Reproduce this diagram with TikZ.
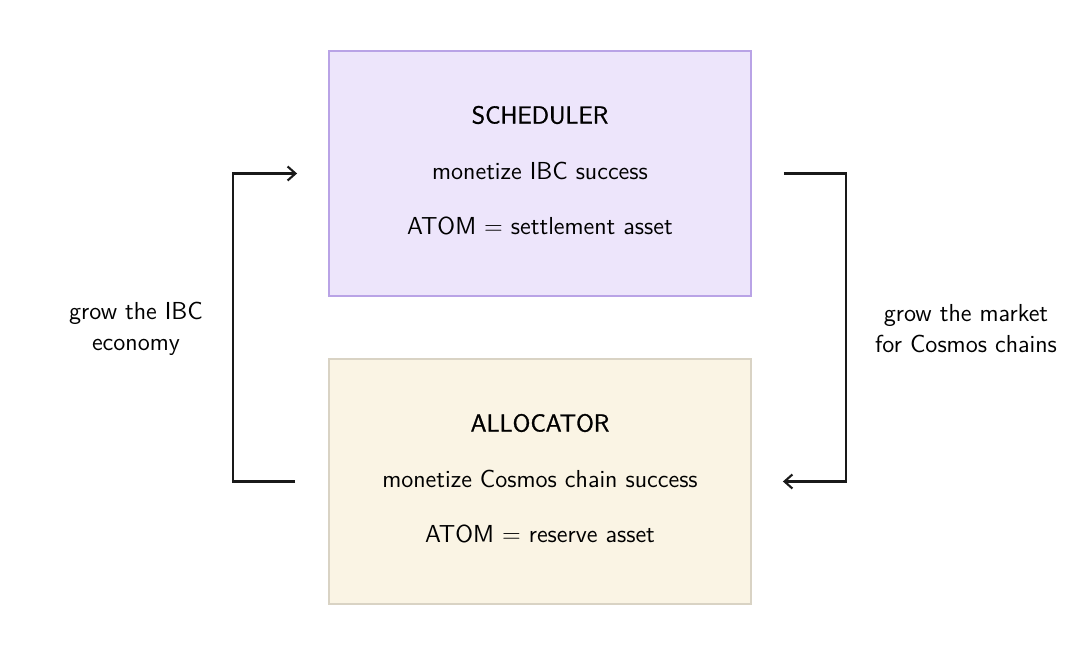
\documentclass[tikz,border=0pt]{standalone}
\usepackage{fontspec}
\usetikzlibrary{positioning,arrows.meta}
\newfontfamily\titlefont[FakeBold=1.2]{Latin Modern Sans}
\definecolor{schedfill}{HTML}{EDE5FB}
\definecolor{scheddraw}{HTML}{B9A3E6}
\definecolor{allocfill}{HTML}{FAF4E4}
\definecolor{allocdraw}{HTML}{D9D3C4}
\begin{document}
\begin{tikzpicture}[x=0.02cm,y=-0.02cm,
    font=\sffamily\fontsize{14}{17.5}\selectfont,
    box/.style={draw,line width=1.1pt,minimum width=8.44cm,minimum height=4.9cm},
    title/.style={font=\titlefont\fontsize{14}{17.5}\selectfont},
    flow/.style={-{Straight Barb[length=4.5pt,width=8pt]},line width=1.2pt,color=black!90}]
  \useasboundingbox (0,0) rectangle (1080,663);
  % the two modules
  \node[box,fill=schedfill,draw=scheddraw] (sched) at (540,173.5) {};
  \node[box,fill=allocfill,draw=allocdraw] (alloc) at (540,481.5) {};
  \node[title] (schedT) at (540,115) {SCHEDULER};
  \node (schedA) at (540,171) {monetize IBC success};
  \node (schedB) at (540,226) {ATOM = settlement asset};
  \node[title] (allocT) at (540,423) {ALLOCATOR};
  \node (allocA) at (540,479) {monetize Cosmos chain success};
  \node (allocB) at (540,534) {ATOM = reserve asset};
  % feedback loops
  \draw[flow] ([xshift=-0.66cm]alloc.west) -- ++(-62,0) |- ([xshift=-0.62cm]sched.west);
  \draw[flow] ([xshift=0.64cm]sched.east) -- ++(62,0) |- ([xshift=0.62cm]alloc.east);
  \node[align=center] (leftL) at (136,328.5) {grow the IBC\\economy};
  \node[align=center] (rightL) at (966,328.5) {grow the market\\for Cosmos chains};
\end{tikzpicture}
\end{document}
